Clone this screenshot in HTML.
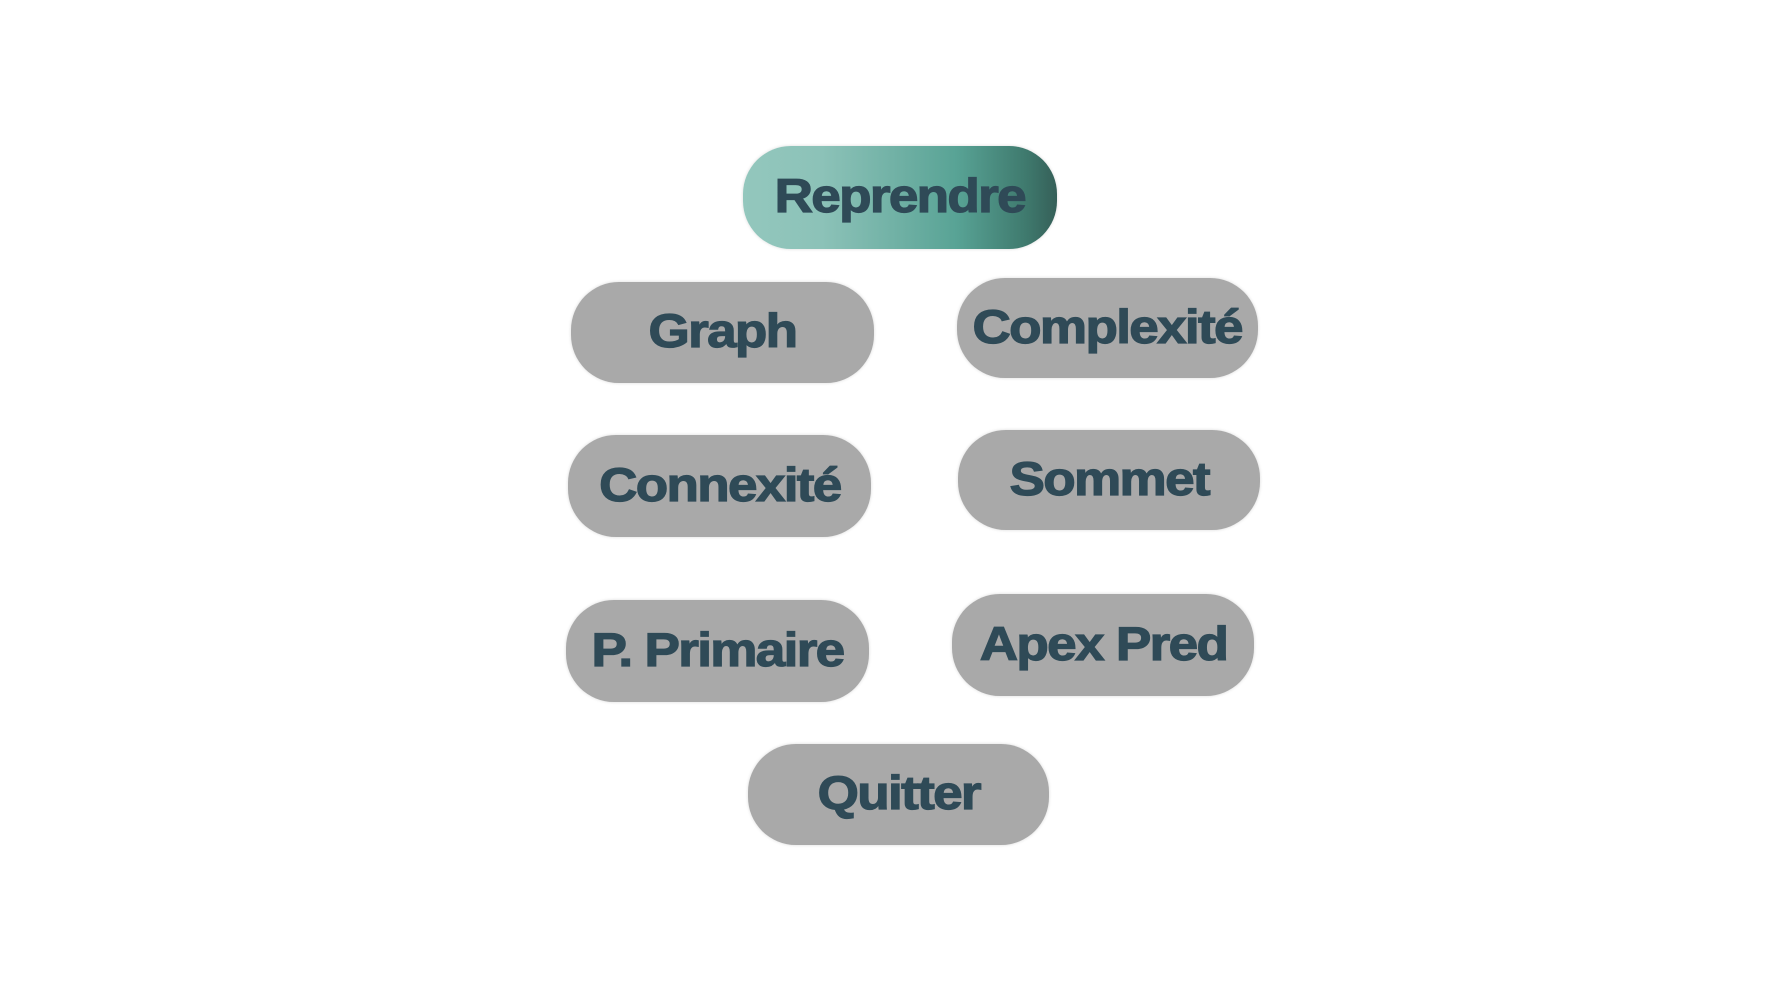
<!DOCTYPE html>
<html><head><style>
html,body{margin:0;padding:0;width:1792px;height:1008px;background:#fff;overflow:hidden}
.b{position:absolute;border-radius:48px;background:#a9a9a9;display:flex;align-items:center;justify-content:center;
font-family:"Liberation Sans",sans-serif;font-weight:bold;font-size:47px;color:#2f4a57;letter-spacing:-1.5px;
box-shadow:0 0 3px rgba(0,0,0,0.15)}
.b span{transform:scaleX(1.13) translateY(-2px);display:inline-block;-webkit-text-stroke:1.2px #2f4a57}
</style></head><body>
<div class="b" style="left:743px;top:146px;width:314px;height:103px;background:linear-gradient(90deg,#93c7bd 0%,#8cc2b8 25%,#6fb0a4 50%,#58a395 68%,#3f7a6e 90%,#355f58 100%)"><span>Reprendre</span></div>
<div class="b" style="left:571px;top:282px;width:303px;height:101px"><span>Graph</span></div>
<div class="b" style="left:957px;top:278px;width:301px;height:100px"><span>Complexité</span></div>
<div class="b" style="left:568px;top:435px;width:303px;height:102px"><span>Connexité</span></div>
<div class="b" style="left:958px;top:430px;width:302px;height:100px"><span>Sommet</span></div>
<div class="b" style="left:566px;top:600px;width:303px;height:102px"><span>P. Primaire</span></div>
<div class="b" style="left:952px;top:594px;width:302px;height:102px"><span>Apex Pred</span></div>
<div class="b" style="left:748px;top:744px;width:301px;height:101px"><span>Quitter</span></div>
</body></html>
